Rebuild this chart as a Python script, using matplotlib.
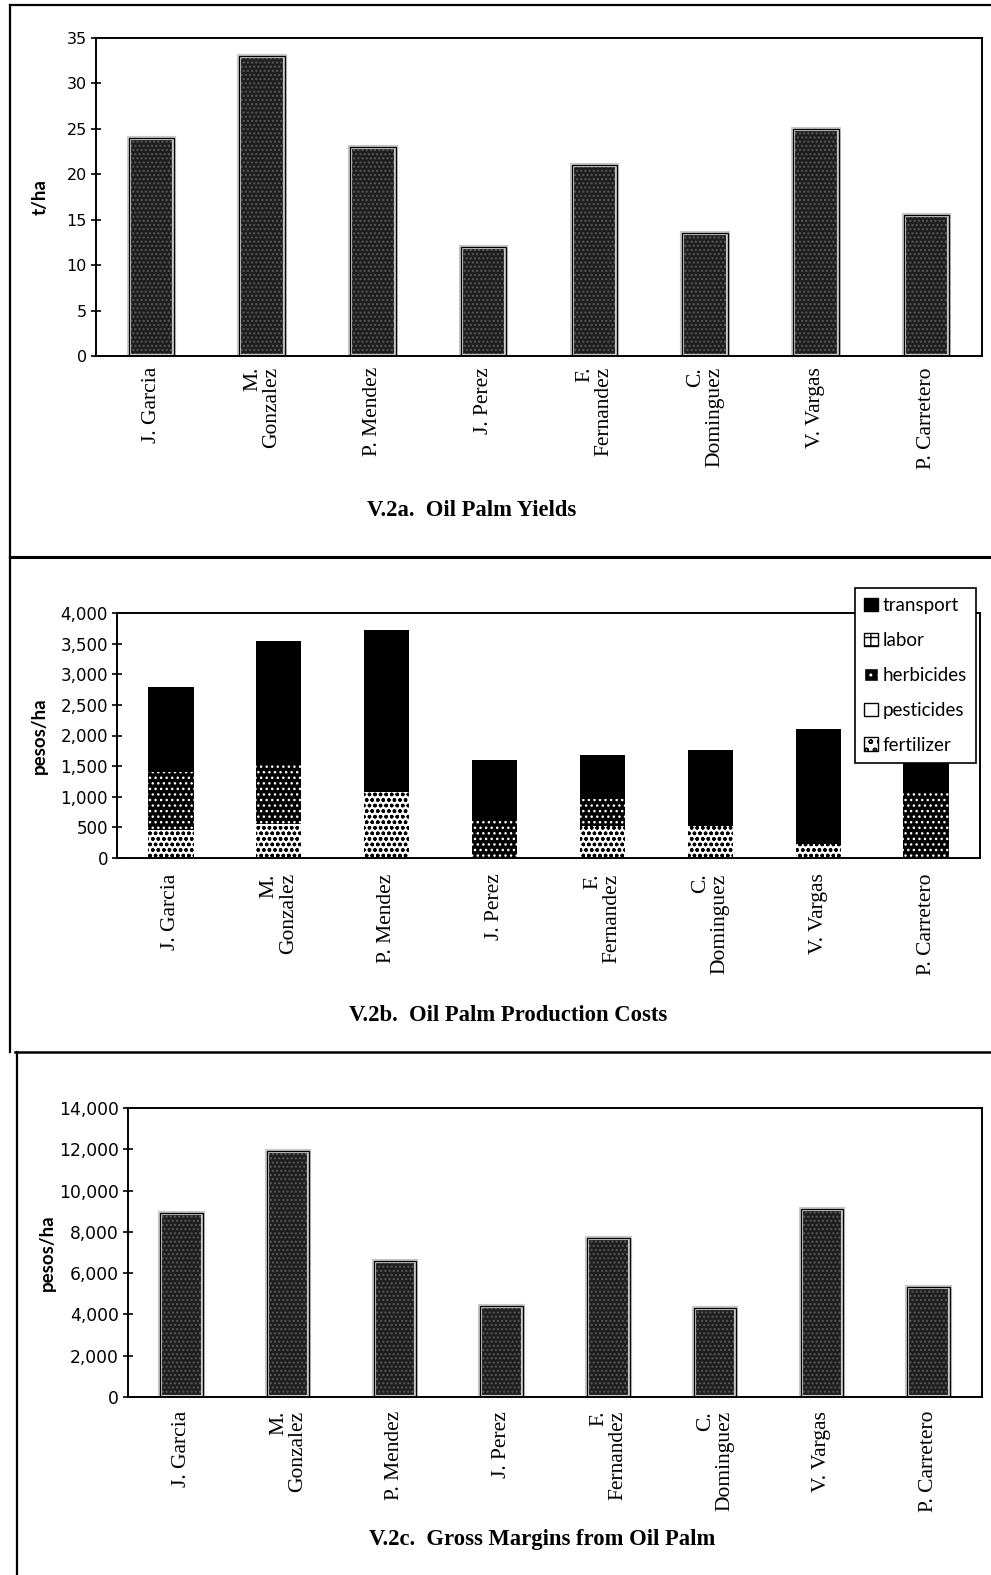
import matplotlib.pyplot as plt
from matplotlib.patches import Patch
from matplotlib.lines import Line2D
from matplotlib.ticker import FuncFormatter
import numpy as np

farmers = ['J. Garcia', 'M.\nGonzalez', 'P. Mendez', 'J. Perez',
           'F.\nFernandez', 'C.\nDominguez', 'V. Vargas', 'P. Carretero']

# V.2a yields (t/ha)
yields = [24, 33, 23, 12, 21, 13.5, 25, 15.5]

# V.2b production costs (pesos/ha), stacked from the bottom
fertilizer = [450, 550, 1070, 0, 520, 530, 230, 0]
pesticides = [0, 0, 0, 0, 0, 0, 0, 0]
herbicides = [950, 1000, 0, 630, 440, 0, 0, 1090]
labor = [0, 0, 0, 0, 0, 0, 0, 0]
transport = [1400, 1990, 2650, 970, 720, 1240, 1880, 1210]

# V.2c gross margins (pesos/ha)
margins = [8900, 11900, 6600, 4400, 7700, 4300, 9100, 5350]

W, H = 991, 1575
fig = plt.figure(figsize=(W / 100, H / 100), dpi=100)

SERIF = 'Liberation Serif'
SANS = 'Lato'
TICK = 'DejaVu Sans'


def add_ax(left, top, right, bottom):
    return fig.add_axes([left / W, 1 - bottom / H, (right - left) / W, (bottom - top) / H])


def style(ax, ylim, yticks, ylabel, ysize, xpad, fmt=None):
    x = np.arange(len(farmers))
    ax.set_xlim(-0.5, len(farmers) - 0.5)
    ax.set_ylim(*ylim)
    ax.set_yticks(yticks)
    if fmt:
        ax.yaxis.set_major_formatter(FuncFormatter(fmt))
    ax.set_xticks(x)
    ax.set_xticklabels(farmers, rotation=90, ha='center', va='top',
                       multialignment='right', family=SERIF, fontsize=15.5,
                       linespacing=1.0)
    ax.tick_params(axis='x', length=0, pad=xpad)
    ax.tick_params(axis='y', direction='inout', length=7, width=1.2, labelsize=ysize, pad=3)
    for lab in ax.get_yticklabels():
        lab.set_family(TICK)
    for sp in ax.spines.values():
        sp.set_linewidth(1.4)
    ax.set_ylabel(ylabel, family=SANS, fontweight='bold', fontsize=13.5)


def speckled(ax, vals, width):
    x = np.arange(len(vals))
    ax.bar(x, vals, width, color='#1e1e1e', edgecolor='#5a5a5a', hatch='....', linewidth=0)
    ax.bar(x, vals, width, fill=False, edgecolor='#c8c8c8', linewidth=3)
    ax.bar(x, vals, width, fill=False, edgecolor='black', linewidth=0.9)


def title(xc, yc, s):
    fig.text(xc / W, 1 - yc / H, s, ha='center', va='center',
             family=SERIF, fontweight='bold', fontsize=16.3)


# ---- V.2a ----
ax1 = add_ax(96, 38, 982, 356)
speckled(ax1, yields, 0.41)
style(ax1, (0, 35), range(0, 36, 5), 't/ha', 11.5, 8)
ax1.yaxis.set_label_coords(-0.054, 0.5)
title(472, 510, 'V.2a.  Oil Palm Yields')

# ---- V.2b ----
ax2 = add_ax(117, 613, 980, 858)
x = np.arange(len(farmers))
bw = 0.42
bottom = np.zeros(len(farmers))
ax2.bar(x, fertilizer, bw, bottom=bottom, color='white', edgecolor='black', hatch='ooo', linewidth=0)
bottom += fertilizer
ax2.bar(x, pesticides, bw, bottom=bottom, color='white', edgecolor='black', linewidth=0)
bottom += pesticides
ax2.bar(x, herbicides, bw, bottom=bottom, color='black', edgecolor='white', hatch='...', linewidth=0)
bottom += herbicides
ax2.bar(x, labor, bw, bottom=bottom, color='white', edgecolor='black', hatch='++', linewidth=0)
bottom += labor
ax2.bar(x, transport, bw, bottom=bottom, color='black', linewidth=0)
style(ax2, (0, 4000), range(0, 4001, 500), 'pesos/ha', 12, 11,
      fmt=lambda v, p: f'{int(v):,}')
ax2.yaxis.set_label_coords(-0.08, 0.5)

handles = [
    Patch(facecolor='black', edgecolor='black', label='transport'),
    Patch(facecolor='white', edgecolor='black', hatch='++', label='labor'),
    Patch(facecolor='black', edgecolor='white', hatch='..', label='herbicides'),
    Patch(facecolor='white', edgecolor='black', label='pesticides'),
    Patch(facecolor='white', edgecolor='black', hatch='oo', label='fertilizer'),
]
leg = fig.legend(handles=handles, loc='upper left', bbox_to_anchor=(855 / W, 1 - 588 / H),
                 bbox_transform=fig.transFigure, borderaxespad=0, fancybox=False,
                 framealpha=1, edgecolor='black', handlelength=0.7, handleheight=0.7,
                 handletextpad=0.25, labelspacing=0.95, borderpad=0.5,
                 prop={'family': SANS, 'size': 13.5})
leg.get_frame().set_linewidth(1.2)

title(508, 1016, 'V.2b.  Oil Palm Production Costs')

# ---- V.2c ----
ax3 = add_ax(128, 1108, 982, 1397)
speckled(ax3, margins, 0.40)
style(ax3, (0, 14000), range(0, 14001, 2000), 'pesos/ha', 12.3, 10,
      fmt=lambda v, p: f'{int(v):,}')
ax3.yaxis.set_label_coords(-0.085, 0.5)
title(542, 1540, 'V.2c.  Gross Margins from Oil Palm')

# panel frame lines (pixel coords)
def frame_line(x0, y0, x1, y1, lw=1.6):
    fig.add_artist(Line2D([x0 / W, x1 / W], [1 - y0 / H, 1 - y1 / H],
                          transform=fig.transFigure, color='black', linewidth=lw))

frame_line(10, 5, 991, 5)
frame_line(10, 5, 10, 557)
frame_line(10, 557, 991, 557, lw=2.2)
frame_line(10, 557, 10, 1052)
frame_line(15, 1052, 991, 1052, lw=1.8)
frame_line(17, 1052, 17, 1575)

fig.savefig('out.png', dpi=100)
